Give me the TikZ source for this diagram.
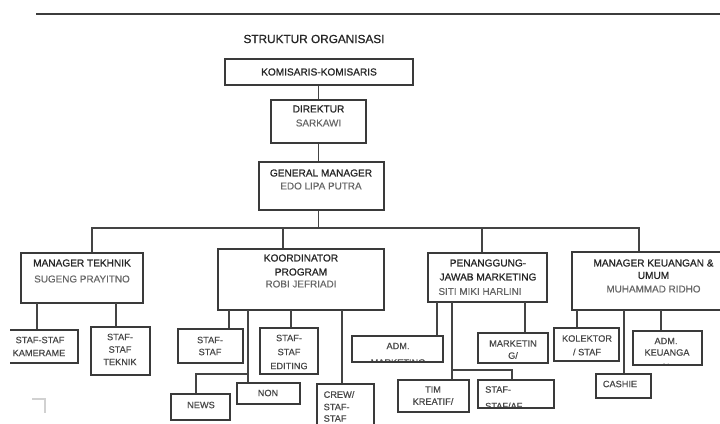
\documentclass[tikz,border=0pt]{standalone}
\usepackage{fontspec}
\setmainfont{Liberation Sans}
\newfontfamily\medfont{Liberation Sans}[FakeBold=0.9]
\newfontfamily\semifont{Liberation Sans}[FakeBold=0.5]
\definecolor{boxc}{HTML}{3A3A3A}
\definecolor{linec}{HTML}{444444}
\definecolor{tc}{HTML}{262626}
\definecolor{nc}{HTML}{666666}
\newcommand\mybox[6][]{\node[box,#1,minimum width={#4-#2},minimum height={#5-#3}] (#6) at ({(#2+#4)/2},{(#3+#5)/2}) {};}
\begin{document}
\begin{tikzpicture}[x=1pt,y=-1pt,
  box/.style={draw=boxc,line width=1.7pt,rectangle,inner sep=0pt},
  conn/.style={draw=linec,line width=1.6pt},
  big/.style={inner sep=0pt,text=tc,font=\medfont\fontsize{10.1}{12}\selectfont},
  bigname/.style={inner sep=0pt,text=nc,font=\semifont\fontsize{9.9}{12}\selectfont},
  sm/.style={inner sep=0pt,text=tc!85,font=\semifont\fontsize{9.2}{11}\selectfont},
  ttl/.style={inner sep=0pt,text=tc,font=\medfont\fontsize{11.8}{14}\selectfont}]
\useasboundingbox (0,0) rectangle (720,423);
\clip (0,0) rectangle (720,423);
% top rule
\coordinate (r1) at (36,14);
\coordinate (r2) at (720,14);
\draw[draw=tc!90,line width=2.4pt] (r1) -- (r2);
\node[ttl] (title) at (314,39) {STRUKTUR ORGANISASI};
% top chain
\mybox{225}{59}{413}{85}{kom}
\node[big] (kom-t) at (319,72) {KOMISARIS-KOMISARIS};
\mybox{271}{100}{366}{143}{dir}
\node[big] (dir-t1) at (318.5,109) {DIREKTUR};
\node[bigname] (dir-t2) at (318.5,123) {SARKAWI};
\mybox{259}{162}{384}{210}{gm}
\node[big] (gm-t1) at (321,173) {GENERAL MANAGER};
\node[bigname] (gm-t2) at (321,186) {EDO LIPA PUTRA};
% level 2
\mybox{21}{253}{143}{303}{mt}
\node[big] (mt-t1) at (82,263) {MANAGER TEKHNIK};
\node[bigname] (mt-t2) at (82,279) {SUGENG PRAYITNO};
\mybox{218}{249}{384}{310}{kp}
\node[big] (kp-t1) at (301,258) {KOORDINATOR};
\node[big] (kp-t2) at (301,272) {PROGRAM};
\node[bigname] (kp-t3) at (301,284) {ROBI JEFRIADI};
\mybox{428}{253}{547}{302}{pm}
\node[big] (pm-t1) at (488,263) {PENANGGUNG-};
\node[big] (pm-t2) at (488,277) {JAWAB MARKETING};
\node[bigname] (pm-t3) at (480,291.5) {SITI MIKI HARLINI};
\mybox{572}{252}{735}{310}{mk}
\node[big] (mk-t1) at (653.5,263) {MANAGER KEUANGAN \&};
\node[big] (mk-t2) at (653.5,275.5) {UMUM};
\node[bigname] (mk-t3) at (653.5,289) {MUHAMMAD RIDHO};
% connectors of the top chain and bus
\draw[conn] (dir.north) -- (dir.north |- kom.south);
\draw[conn] (dir.south) -- (dir.south |- gm.north);
\coordinate (b1) at (92,228);
\coordinate (b2) at (283,228);
\coordinate (b3) at (482,228);
\coordinate (b4) at (639,228);
\draw[conn] (dir.south |- gm.south) -- (dir.south |- b1);
\draw[conn] (mt.north -| b1) -- (b1) -- (b4) -- (mk.north -| b4);
\draw[conn] (b2) -- (kp.north -| b2);
\draw[conn] (b3) -- (pm.north -| b3);
% manager tekhnik children
\begin{scope}
\clip (10,320) rectangle (90,370);
\mybox{2}{330}{78}{363}{kam}
\node[sm] (kam-t1) at (40,340) {STAF-STAF};
\node[sm] (kam-t2) at (39,353) {KAMERAME};
\end{scope}
\mybox{91}{327}{150}{375}{tek}
\node[sm] (tek-t1) at (120,337) {STAF-};
\node[sm] (tek-t2) at (120,349.5) {STAF};
\node[sm] (tek-t3) at (120,362) {TEKNIK};
\coordinate (mt-a) at (37,303);
\coordinate (mt-b) at (116,303);
\draw[conn] (mt-a) -- (kam.north -| mt-a);
\draw[conn] (mt-b) -- (tek.north -| mt-b);
% koordinator children
\mybox{178}{329}{243}{363}{ss}
\node[sm] (ss-t1) at (210,340) {STAF-};
\node[sm] (ss-t2) at (210,352) {STAF};
\mybox{171}{394}{230}{420}{news}
\node[sm] (news-t) at (201,405) {NEWS};
\mybox{237}{383}{300}{404}{non}
\node[sm] (non-t) at (268,393) {NON};
\mybox{260}{328}{318}{374}{ed}
\node[sm] (ed-t1) at (289,338) {STAF-};
\node[sm] (ed-t2) at (289,352) {STAF};
\node[sm] (ed-t3) at (289,366) {EDITING};
\mybox{317}{384}{374}{432}{crew}
\node[sm,anchor=west] (crew-t1) at (323.5,394.5) {CREW/};
\node[sm,anchor=west] (crew-t2) at (323.5,407) {STAF-};
\node[sm,anchor=west] (crew-t3) at (323.5,418.5) {STAF};
\coordinate (kp-a) at (229,310);
\coordinate (kp-b) at (248,310);
\coordinate (kp-c) at (291,310);
\coordinate (kp-d) at (342,310);
\coordinate (kp-j) at (248,374);
\draw[conn] (kp-a) -- (ss.north -| kp-a);
\draw[conn] (kp-b) -- (non.north -| kp-b);
\draw[conn] (kp-j) -| (news.north -| 196,0);
\draw[conn] (kp-c) -- (ed.north -| kp-c);
\draw[conn] (kp-d) -- (crew.north -| kp-d);
% penanggung jawab marketing children
\begin{scope}
\clip (352,336) rectangle (443,362);
\node[sm] (adm-t2) at (398,362.5) {MARKETING};
\end{scope}
\mybox{352}{336}{443}{362}{adm}
\node[sm] (adm-t1) at (398,346) {ADM.};
\mybox{478}{333}{548}{363}{mkt}
\node[sm] (mkt-t1) at (513,343.5) {MARKETIN};
\node[sm] (mkt-t2) at (513,355.5) {G/};
\mybox{398}{380}{469}{412}{tim}
\node[sm] (tim-t1) at (433,389.5) {TIM};
\node[sm] (tim-t2) at (433,401.5) {KREATIF/};
\begin{scope}
\clip (478,380) rectangle (554,408);
\node[sm,anchor=west] (sa-t2) at (485,406) {STAF/AF};
\end{scope}
\mybox{478}{380}{554}{408}{sa}
\node[sm,anchor=west] (sa-t1) at (485,389.5) {STAF-};
\coordinate (pm-a) at (437,302);
\coordinate (pm-b) at (452,302);
\coordinate (pm-c) at (525,302);
\coordinate (pm-j) at (452,370);
\draw[conn] (pm-a) -- (adm.north -| pm-a);
\draw[conn] (pm-b) -- (tim.north -| pm-b);
\draw[conn] (pm-j) -| (sa.north -| 512,0);
\draw[conn] (pm-c) -- (mkt.north -| pm-c);
% keuangan children
\mybox{554}{328}{619}{361}{kol}
\node[sm] (kol-t1) at (587,338.5) {KOLEKTOR};
\node[sm] (kol-t2) at (587,352) {/ STAF};
\mybox{596}{374}{651}{398}{cas}
\node[sm] (cas-t) at (620,384) {CASHIE};
\begin{scope}
\clip (633,331) rectangle (702,365);
\node[sm,text=tc!40] (ak-t3) at (666,366.5) {N};
\end{scope}
\mybox{633}{331}{702}{365}{ak}
\node[sm] (ak-t1) at (666,341) {ADM.};
\node[sm] (ak-t2) at (667,352.5) {KEUANGA};
\coordinate (mk-a) at (577,310);
\coordinate (mk-b) at (624,310);
\coordinate (mk-c) at (661,310);
\draw[conn] (mk-a) -- (kol.north -| mk-a);
\draw[conn] (mk-b) -- (cas.north -| mk-b);
\draw[conn] (mk-c) -- (ak.north -| mk-c);
% faint corner mark
\coordinate (cm1) at (32,399);
\coordinate (cm2) at (45,399);
\coordinate (cm3) at (45,413);
\draw[black!18,line width=1.5pt] (cm1) -- (cm2) -- (cm3);
\end{tikzpicture}
\end{document}
